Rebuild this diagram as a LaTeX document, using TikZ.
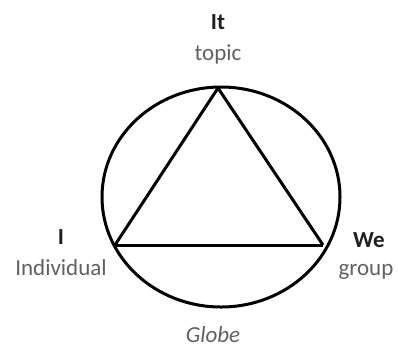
\documentclass[tikz,border=0pt]{standalone}
\usepackage{fontspec}
\setmainfont{Carlito}
\begin{document}
\begin{tikzpicture}[x=1pt,y=-1pt,
  lbl/.style={font=\fontsize{23}{26}\selectfont, text=black!62, inner sep=0pt},
  hd/.style={font=\fontsize{23}{26}\selectfont\bfseries, text=black!88, inner sep=0pt},
  edge/.style={line width=3pt, line join=round}]
\useasboundingbox (0,0) rectangle (398,349);
\coordinate (T) at (218,88);
\coordinate (L) at (115,245);
\coordinate (R) at (323,245);
\draw[line width=3pt] (221,197) ellipse [x radius=119, y radius=110];
\draw[edge] (T) -- (L);
\draw[edge] (T) -- (R);
\draw[edge] (L) -- (R);
\node[hd] (it) at (218,22) {It};
\node[lbl] (topic) at (218,54) {topic};
\node[hd] (i) at (61,237) {I};
\node[lbl] (ind) at (61,268) {Individual};
\node[hd] (we) at (369,240) {We};
\node[lbl] (grp) at (366,272) {group};
\node[lbl, font=\fontsize{23}{26}\selectfont\itshape] (globe) at (213,335) {Globe};
\end{tikzpicture}
\end{document}
